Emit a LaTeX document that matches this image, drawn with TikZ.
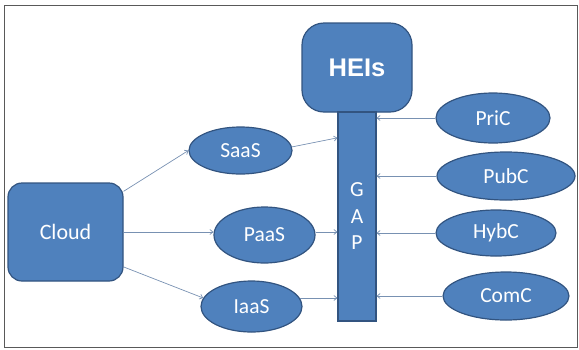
\documentclass[tikz,border=0pt]{standalone}
\usepackage{fontspec}
\setmainfont{Carlito}
\newfontfamily\headfont{Liberation Sans}
\usetikzlibrary{shapes,arrows,arrows.meta,positioning,calc}
\definecolor{boxblue}{RGB}{79,129,189}
\definecolor{boxline}{RGB}{50,84,128}
\definecolor{linkblue}{RGB}{120,145,178}
\tikzset{
block/.style = {draw=boxline, fill=boxblue, rectangle, rounded corners=14pt, text=white, line width=1.2pt, inner sep=0pt, font=\fontsize{22}{26}\selectfont},
model/.style = {draw=boxline, fill=boxblue, ellipse, text=white, line width=1.2pt, inner sep=0pt, font=\fontsize{21.5}{25}\selectfont},
bar/.style = {draw=boxline, fill=boxblue, rectangle, text=white, line width=1.2pt, inner sep=0pt, align=center, font=\fontsize{21.5}{26.5}\selectfont},
link/.style = {->, draw=linkblue, line width=0.7pt},
}

\begin{document}
\begin{tikzpicture}[x=1pt, y=-1pt, >={Straight Barb[length=3pt,width=5pt]}]
      \useasboundingbox (0,0) rectangle (579,349);
      \draw [black!65, line width=1pt] (4.5,5.5) rectangle (577,347.5);
      \node [block, name=cloud, minimum width=115pt, minimum height=98pt] at (65.5,232) {Cloud};
      \node [block, name=heis, rounded corners=22pt, minimum width=110pt, minimum height=89pt,
         font=\headfont\bfseries\fontsize{25.5}{30}\selectfont] at (357,67.5) {HEIs};
      \node [bar, name=gap, below of = heis, node distance = 149pt, minimum width=38pt, minimum height=209pt] {G\\A\\P};
      % service models
      \node [model, name=saas, minimum width=103pt, minimum height=47pt] at (240.5,150.5) {SaaS};
      \node [model, name=paas, minimum width=101pt, minimum height=56pt] at (264.5,235) {PaaS};
      \node [model, name=iaas, minimum width=101pt, minimum height=51pt] at (251.5,306.5) {IaaS};
      % deployment models
      \node [model, name=pric, minimum width=114pt, minimum height=50pt] at (493,118) {PriC};
      \node [model, name=pubc, minimum width=138pt, minimum height=48pt] at (506,176) {PubC};
      \node [model, name=hybc, minimum width=120pt, minimum height=46pt] at (496,233) {HybC};
      \node [model, name=comc, minimum width=126pt, minimum height=48pt] at (506,296) {ComC};
      \draw [link] (cloud.35) -- (saas.west);
      \draw [link] (cloud.east) -- (paas.west |- cloud.east);
      \draw [link] (cloud.-31) -- (iaas.170);
      \draw [link] (saas.4) -- (gap.104.7);
      \draw [link] (paas.east |- cloud.east) -- (gap.west |- cloud.east);
      \draw [link] (iaas.10) -- (iaas.10 -| gap.west);
      \draw [link] (pric.west) -- (pric.west -| gap.east);
      \draw [link] (pubc.west) -- (pubc.west -| gap.east);
      \draw [link] (hybc.west) -- (hybc.west -| gap.east);
      \draw [link] (comc.west) -- (comc.west -| gap.east);
\end{tikzpicture}
\end{document}
